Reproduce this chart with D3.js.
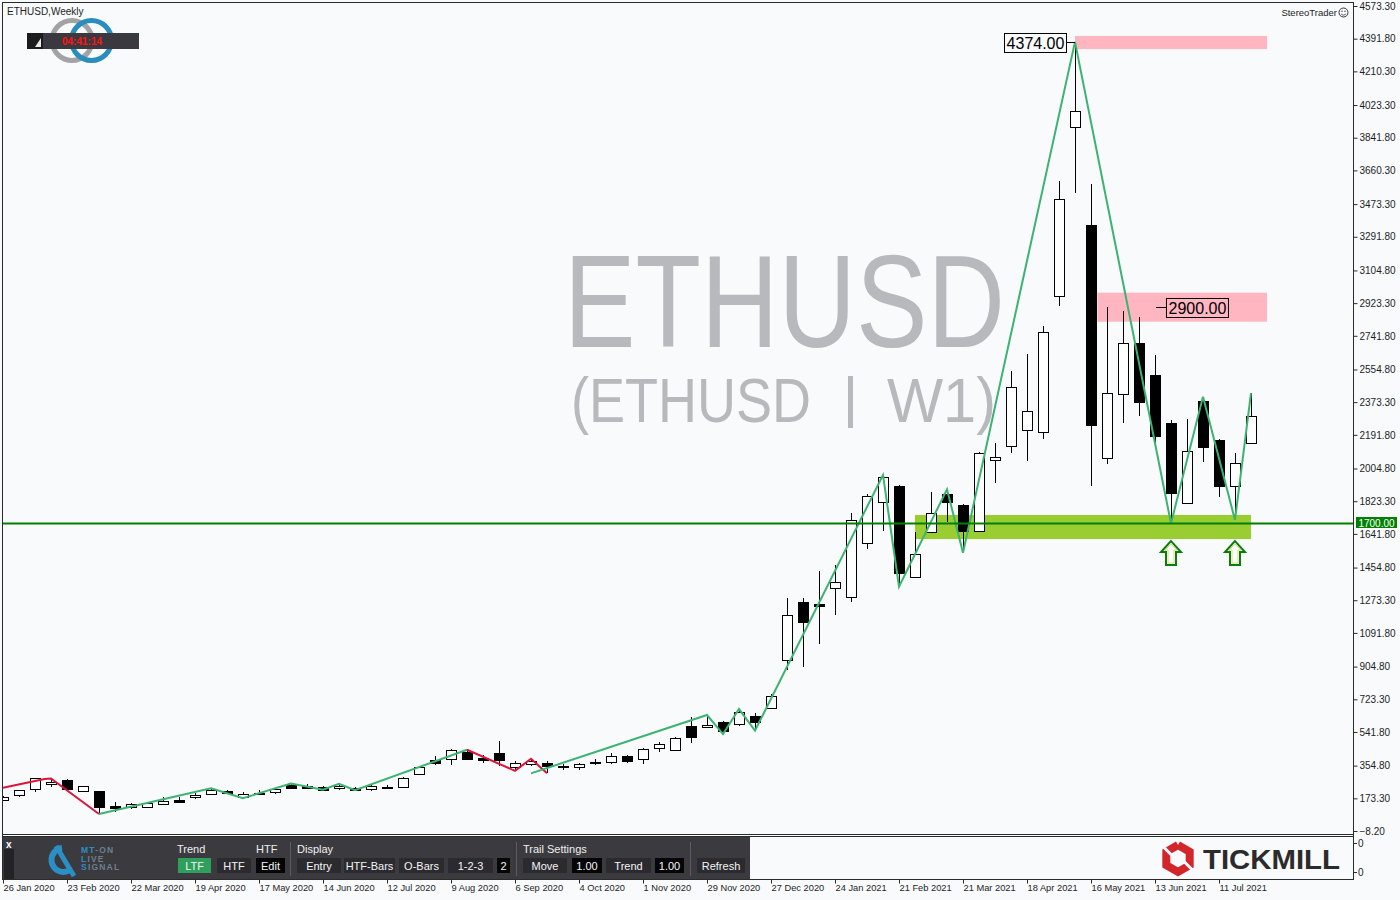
<!DOCTYPE html>
<html><head><meta charset="utf-8">
<script src="https://cdn.jsdelivr.net/npm/d3@7"></script>
<style>
html,body{margin:0;padding:0;background:#f8fafc;}
svg{display:block;}
text{font-family:"Liberation Sans",Arial,sans-serif;}
</style></head>
<body><svg id="c" width="1400" height="900"></svg>
<script>
// ---- weekly ETHUSD bars (26 Jan 2020 ... 19 Jul 2021) ----
const barOpen  = [164,190,223,253,275,212,214,129,127,123,140,163,179,196,214,182,199,207,245,241,236,229,232,223,233,234,307,384,390,432,398,425,349,363,370,352,349,376,374,409,393,451,443,573,568,595,585,631,673,940,1264,1252,1340,1290,1589,1817,1908,1404,1651,1863,1802,1658,2050,2132,2217,2206,2961,3900,3357,2062,2417,2704,2524,2256,1811,2380,2163,1909,2148];
const barHigh  = [185,222,286,288,280,242,216,153,149,155,179,182,201,229,219,210,219,232,256,252,240,254,236,254,246,290,348,408,447,447,413,491,380,393,380,363,371,393,423,415,455,484,512,623,636,603,670,646,751,1286,1286,1433,1467,1760,1863,1969,1915,1654,1874,1889,1810,2095,2148,2546,2641,2796,3601,4374,3585,2904,2879,2848,2635,2274,2280,2404,2170,2089,2423];
const barLow   = [158,182,210,238,220,210,86,99,115,118,135,146,168,191,196,174,191,198,224,224,216,222,218,213,230,230,305,358,358,390,368,354,326,354,312,330,330,358,364,371,365,432,438,479,567,530,573,549,668,884,904,1032,1191,1265,1558,1659,1349,1395,1650,1710,1537,1655,1926,2093,2048,2167,2909,3537,1909,2030,2259,2298,2132,1700,1808,2043,1848,1719,2141];
const barClose = [181,219,284,266,223,240,127,119,142,146,160,152,192,219,205,199,203,223,230,232,221,243,221,243,237,284,346,371,442,393,387,388,368,381,355,345,364,368,409,383,447,475,507,516,581,549,651,596,742,1191,1154,1243,1375,1717,1852,1956,1426,1528,1758,1817,1660,2089,2069,2456,2324,2761,3500,3989,2248,2423,2700,2376,2187,1867,2101,2126,1909,2034,2296];

const dateLabels = ["26 Jan 2020","23 Feb 2020","22 Mar 2020","19 Apr 2020","17 May 2020","14 Jun 2020","12 Jul 2020","9 Aug 2020","6 Sep 2020","4 Oct 2020","1 Nov 2020","29 Nov 2020","27 Dec 2020","24 Jan 2021","21 Feb 2021","21 Mar 2021","18 Apr 2021","16 May 2021","13 Jun 2021","11 Jul 2021"];
const priceTicks = [4573.30,4391.80,4210.30,4023.30,3841.80,3660.30,3473.30,3291.80,3104.80,2923.30,2741.80,2554.80,2373.30,2191.80,2004.80,1823.30,1641.80,1454.80,1273.30,1091.80,904.80,723.30,541.80,354.80,173.30,-8.20];

// zigzag pivots: [bar index, price]
const zigRed1   = [[0,232],[2.6,280],[3,283],[6,86]];
const zigGreen1 = [[6,86],[13,229],[15,174],[18,256],[20,221],[21,254],[22,218],[29,443]];
const zigRed2   = [[29,443],[32,326],[33,393],[34,312]];
const zigGreen2 = [[33,312],[44,636],[45,530],[46,669],[47,549],[55,1969],[56,1349],[59,1889],[60,1537],[67,4374],[73,1700],[75,2404],[77,1719],[78,2423]];

// zones: [startIndex, endIndex, lowPrice, highPrice]
const supportZone = [57, 78, 1613, 1747];
const resistZones = [[67, 79, 4334, 4407],[68.4, 79, 2820, 2981]];
const supportLevel = 1700;
const peakLabel = [67, 4374];
const targetLabel = [72.06, 2900];
const arrowBars = [73, 77];

const svg = d3.select('#c');
svg.append('rect').attr('width',1400).attr('height',900).attr('fill','#f8fafc');

const x = d3.scaleLinear().domain([0,78]).range([3,1251]);
const y = d3.scaleLinear().domain([-8.2,4573.3]).range([831,6]);

const defs = svg.append('defs');
defs.append('clipPath').attr('id','clipMain').append('rect').attr('x',3).attr('y',3).attr('width',1350).attr('height',831);
const main = svg.append('g').attr('clip-path','url(#clipMain)');

// watermark
const wm = main.append('g').attr('fill','#b8b9bc').style('font-family','"Open Sans","DejaVu Sans",sans-serif');
wm.append('text').attr('x',564).attr('y',347).attr('font-size',131).attr('textLength',441).attr('lengthAdjust','spacingAndGlyphs').text('ETHUSD');
wm.append('text').attr('x',571).attr('y',422).attr('font-size',63).attr('textLength',240).attr('lengthAdjust','spacingAndGlyphs').text('(ETHUSD');
wm.append('rect').attr('x',848).attr('y',376).attr('width',5).attr('height',52);
wm.append('text').attr('x',887).attr('y',422).attr('font-size',63).attr('textLength',109).attr('lengthAdjust','spacingAndGlyphs').text('W1)');

// zones
main.append('rect').attr('x',x(supportZone[0])).attr('width',x(supportZone[1])-x(supportZone[0]))
  .attr('y',y(supportZone[3])).attr('height',y(supportZone[2])-y(supportZone[3])).attr('fill','#9acd32');
resistZones.forEach(z=>{
  main.append('rect').attr('x',x(z[0])).attr('width',x(z[1])-x(z[0]))
    .attr('y',y(z[3])).attr('height',y(z[2])-y(z[3])).attr('fill','#ffb6c1');
});

// candles
const cg = main.append('g');
barOpen.forEach((o,i)=>{
  const c = barClose[i], h = barHigh[i], l = barLow[i];
  const cx = Math.round(x(i));
  cg.append('line').attr('x1',cx+0.5).attr('x2',cx+0.5).attr('y1',Math.round(y(h))).attr('y2',Math.round(y(l)))
    .attr('stroke','#000').attr('stroke-width',1);
  const top = Math.round(y(Math.max(o,c))), bot = Math.round(y(Math.min(o,c)));
  cg.append('rect').attr('x',cx-5+0.5).attr('y',top+0.5).attr('width',10).attr('height',Math.max(bot-top,1))
    .attr('fill', c>=o ? '#ffffff' : '#000000').attr('stroke','#000').attr('stroke-width',1);
});

// zigzag
const line = d3.line().x(d=>x(d[0])).y(d=>y(d[1]));
[[zigRed1,'#dc143c'],[zigGreen1,'#3cb371'],[zigRed2,'#dc143c'],[zigGreen2,'#3cb371']].forEach(([pts,col])=>{
  main.append('path').attr('d',line(pts)).attr('fill','none').attr('stroke',col).attr('stroke-width',2);
});

// support level line
main.append('line').attr('x1',3).attr('x2',1353).attr('y1',y(supportLevel)).attr('y2',y(supportLevel))
  .attr('stroke','#008000').attr('stroke-width',2);

// price labels
function boxLabel(txt, bx, by, lx1, lx2, ly){
  main.append('line').attr('x1',lx1).attr('x2',lx2).attr('y1',ly).attr('y2',ly).attr('stroke','#000');
  main.append('rect').attr('x',bx+0.5).attr('y',by+0.5).attr('width',62).attr('height',19).attr('fill','none').attr('stroke','#000');
  main.append('text').attr('x',bx+31.5).attr('y',by+16).attr('text-anchor','middle').attr('font-size',16).attr('fill','#000').text(txt);
}
const py = Math.round(y(peakLabel[1]))+0.5;
boxLabel(peakLabel[1].toFixed(2), x(peakLabel[0])-71, py-9.5, x(peakLabel[0])-9, x(peakLabel[0]), py);
const ty = Math.round(y(targetLabel[1]))+0.5;
boxLabel(targetLabel[1].toFixed(2), x(targetLabel[0])+10, ty-9.5, x(targetLabel[0]), x(targetLabel[0])+10, ty);

// arrows
arrowBars.forEach(b=>{
  const cx = x(b), t = y(supportZone[2])+2;
  const p = [[cx,t],[cx+10,t+11],[cx+5,t+11],[cx+5,t+24],[cx-5,t+24],[cx-5,t+11],[cx-10,t+11]];
  main.append('path').attr('d','M'+p.map(q=>q.join(',')).join('L')+'Z').attr('fill','#ffffff')
    .attr('stroke','#0a7d0a').attr('stroke-width',2).attr('stroke-linejoin','miter');
  main.append('path').attr('d','M'+[[cx,t+3],[cx+6,t+9],[cx+3,t+9],[cx+3,t+22],[cx-3,t+22],[cx-3,t+9],[cx-6,t+9]].map(q=>q.join(',')).join('L')+'Z')
    .attr('fill','none').attr('stroke','#cfe07a').attr('stroke-width',1);
});

// frame lines
const fr = svg.append('g').attr('stroke','#2b2b2b').attr('stroke-width',1);
fr.append('line').attr('x1',2.5).attr('x2',2.5).attr('y1',2).attr('y2',880);
fr.append('line').attr('x1',2).attr('x2',1354).attr('y1',2.5).attr('y2',2.5);
fr.append('line').attr('x1',1353.5).attr('x2',1353.5).attr('y1',2).attr('y2',880);
fr.append('line').attr('x1',2).attr('x2',1354).attr('y1',834.5).attr('y2',834.5);
fr.append('line').attr('x1',2).attr('x2',1354).attr('y1',836.5).attr('y2',836.5);
fr.append('line').attr('x1',2).attr('x2',1354).attr('y1',879.5).attr('y2',879.5);

// right price axis
const yAxis = d3.axisRight(y).tickValues(priceTicks).tickFormat(d3.format('.2f')).tickSize(4).tickPadding(2);
const ya = svg.append('g').attr('transform','translate(1353.5,0)').call(yAxis);
ya.select('.domain').remove();
ya.selectAll('line').attr('stroke','#2b2b2b');
ya.selectAll('text').attr('font-size',10).attr('fill','#1e1e1e').style('font-family','"Liberation Sans",Arial,sans-serif');
// 1700 marker
svg.append('rect').attr('x',1356).attr('y',Math.round(y(supportLevel))-6).attr('width',41).attr('height',11).attr('fill','#008000');
svg.append('text').attr('x',1376.5).attr('y',Math.round(y(supportLevel))+3.5).attr('text-anchor','middle').attr('font-size',10).attr('fill','#ffffff').text(supportLevel.toFixed(2));

// sub window zero labels
[843,872].forEach(yy=>{
  svg.append('line').attr('x1',1354).attr('x2',1357).attr('y1',yy+0.5).attr('y2',yy+0.5).attr('stroke','#2b2b2b');
  svg.append('text').attr('x',1358).attr('y',yy+4).attr('font-size',10).attr('fill','#1e1e1e').text('0');
});

// bottom date axis
const xAxis = d3.axisBottom(x).tickValues(dateLabels.map((d,k)=>k*4)).tickFormat(v=>dateLabels[v/4]).tickSize(4).tickPadding(1);
const xa = svg.append('g').attr('transform','translate(0,879.5)').call(xAxis);
xa.select('.domain').remove();
xa.selectAll('line').attr('stroke','#2b2b2b');
xa.selectAll('text').attr('text-anchor','start').attr('font-size',9.3).attr('fill','#1e1e1e').style('font-family','"Liberation Sans",Arial,sans-serif');

// header texts
svg.append('text').attr('x',7).attr('y',15).attr('font-size',10).attr('fill','#1e1e1e').text('ETHUSD,Weekly');
svg.append('text').attr('x',1337).attr('y',16).attr('text-anchor','end').attr('font-size',9.5).attr('fill','#1e1e1e').text('StereoTrader');
svg.append('circle').attr('cx',1343.5).attr('cy',12.5).attr('r',4.5).attr('fill','none').attr('stroke','#333');
svg.append('circle').attr('cx',1342).attr('cy',11.3).attr('r',0.7).attr('fill','#333');
svg.append('circle').attr('cx',1345).attr('cy',11.3).attr('r',0.7).attr('fill','#333');
svg.append('path').attr('d','M1341,14 Q1343.5,16.5 1346,14').attr('fill','none').attr('stroke','#333').attr('stroke-width',0.8);

// logo top-left
svg.append('circle').attr('cx',72).attr('cy',40.5).attr('r',20).attr('fill','none').attr('stroke','#a3a3a3').attr('stroke-width',5);
svg.append('circle').attr('cx',91.5).attr('cy',40.5).attr('r',20).attr('fill','none').attr('stroke','#2a8dbd').attr('stroke-width',5);
svg.append('rect').attr('x',27).attr('y',33).attr('width',112).attr('height',16).attr('fill','#3a3940');
svg.append('rect').attr('x',27).attr('y',33).attr('width',16).attr('height',16).attr('fill','#1c1c1c');
svg.append('path').attr('d','M41,38 L41,47 L35,47 Z').attr('fill','#e8e8e8');
svg.append('text').attr('x',82).attr('y',44.5).attr('text-anchor','middle').attr('font-size',10).attr('font-weight','bold').attr('fill','#ff1414').text('04:41:14');

// toolbar
const tb = svg.append('g');
tb.append('rect').attr('x',3).attr('y',837).attr('width',747).attr('height',42).attr('fill','#3b3a3f');
tb.append('rect').attr('x',4).attr('y',849).attr('width',10).attr('height',30).attr('fill','#232226');
tb.append('text').attr('x',6).attr('y',848).attr('font-size',10).attr('font-weight','bold').attr('fill','#ffffff').text('x');
// MT-ON icon
tb.append('path').attr('d','M62,848 A12,12 0 1,0 70,870').attr('fill','none').attr('stroke','#2a8fc4').attr('stroke-width',6);
tb.append('line').attr('x1',56).attr('y1',846).attr('x2',74).attr('y2',876).attr('stroke','#2a8fc4').attr('stroke-width',5);
const lg = [[853,'MT','-ON'],[861.5,'L','IVE'],[870,'S','IGNAL']];
lg.forEach(([yy,a,b])=>{
  const t = tb.append('text').attr('x',81).attr('y',yy).attr('font-size',8.5).attr('font-weight','bold').attr('letter-spacing',1.2);
  t.append('tspan').attr('fill','#2a8fc4').text(a);
  t.append('tspan').attr('fill','#6d7f8e').text(b);
});
[['Trend',177],['HTF',256],['Display',297],['Trail Settings',523]].forEach(([s,xx])=>{
  tb.append('text').attr('x',xx).attr('y',853).attr('font-size',11).attr('fill','#f0f0f0').text(s);
});
[290,516,690].forEach(xx=>{
  tb.append('line').attr('x1',xx+0.5).attr('x2',xx+0.5).attr('y1',842).attr('y2',876).attr('stroke','#5c5b60');
});
const btns = [[178,33,'LTF','#2e9f5c'],[217,34,'HTF','#2b2a2f'],[256,29,'Edit','#050505'],[297,44,'Entry','#2b2a2f'],[344,51,'HTF-Bars','#2b2a2f'],[399,45,'O-Bars','#2b2a2f'],[448,45,'1-2-3','#2b2a2f'],[497,13,'2','#050505'],[523,44,'Move','#2b2a2f'],[572,30,'1.00','#050505'],[606,45,'Trend','#2b2a2f'],[655,29,'1.00','#050505'],[697,48,'Refresh','#2b2a2f']];
btns.forEach(([bx,bw,s,f])=>{
  tb.append('rect').attr('x',bx).attr('y',858).attr('width',bw).attr('height',15).attr('fill',f);
  tb.append('text').attr('x',bx+bw/2).attr('y',869.5).attr('text-anchor','middle').attr('font-size',11).attr('fill','#f4f4f4').text(s);
});

// Tickmill logo
const hx = 1178, hy = 858.5, R = 13.5;
const hex = d3.range(7).map(k=>{const a = Math.PI/3*k - Math.PI/2; return [hx+R*Math.cos(a), hy+R*Math.sin(a)];});
svg.append('path').attr('d','M'+hex.map(p=>p.join(',')).join('L')).attr('fill','none').attr('stroke','#d3262b').attr('stroke-width',8).attr('stroke-linejoin','miter');
svg.append('line').attr('x1',hx-14).attr('y1',hy-11).attr('x2',hx-5).attr('y2',hy-2).attr('stroke','#f8fafc').attr('stroke-width',3);
svg.append('line').attr('x1',hx+14).attr('y1',hy+11).attr('x2',hx+5).attr('y2',hy+2).attr('stroke','#f8fafc').attr('stroke-width',3);
svg.append('text').attr('x',1203).attr('y',869).attr('font-size',28).attr('font-weight','bold').attr('fill','#2b2b2b')
  .attr('textLength',137).attr('lengthAdjust','spacingAndGlyphs').text('TICKMILL');
</script>
</body></html>
